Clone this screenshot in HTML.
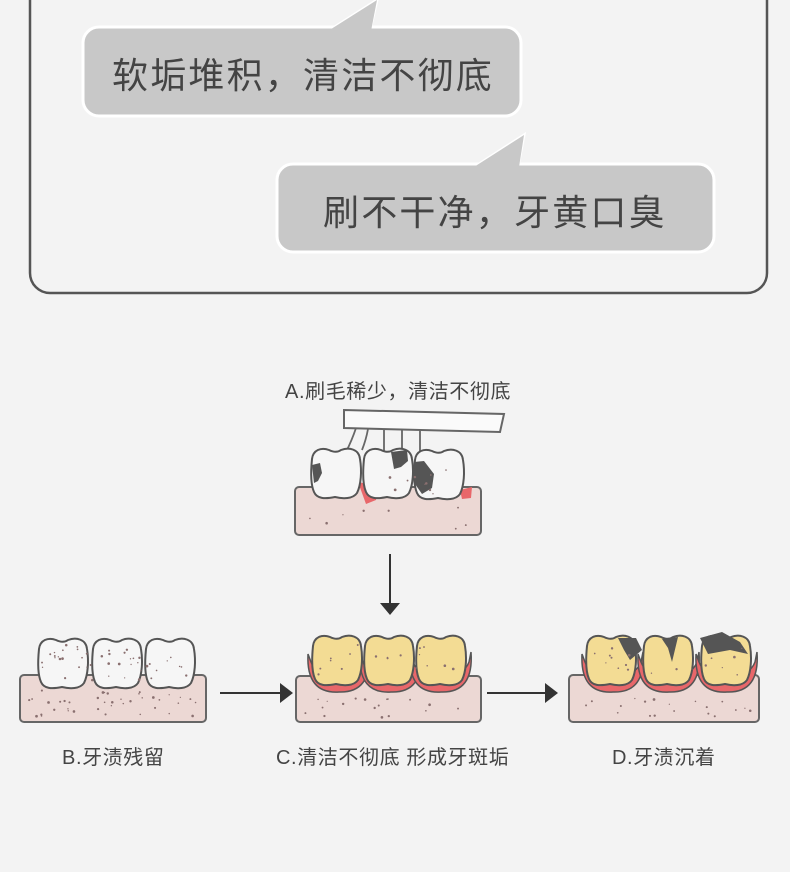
<!DOCTYPE html>
<html><head><meta charset="utf-8"><style>
html,body{margin:0;padding:0;background:#f3f3f3;}
body{width:790px;height:872px;position:relative;overflow:hidden;font-family:"Liberation Sans","Noto Sans CJK SC",sans-serif;}
.t{position:absolute;color:#444;white-space:nowrap;}
.big{font-size:36px;letter-spacing:2.2px;}
.sm{font-size:20px;letter-spacing:0.6px;}
</style></head><body>
<svg width="790" height="872" style="position:absolute;left:0;top:0">
<defs>
<path id="tooth" d="M3,12 C4,3 12,0 20,3 C24,5 28,6 32,3 C40,0 50,2 51,12 C53,24 52,38 48,46 C44,52 34,52 26,50 C16,52 8,52 5,45 C1,36 2,22 3,12 Z"/>
<path id="collar" d="M-4,22 Q-6,62 27,60 Q60,61 57,20 L55,30 Q50,44 27,44 Q4,44 -1,30 Z"/>
</defs>
<rect x="30" y="-30" width="737" height="323" rx="20" fill="#f3f3f3" stroke="#555" stroke-width="2.5"/>
<path d="M330,30 L377,0 L370,30 Z" fill="#c8c8c8" stroke="#fff" stroke-width="3"/>
<rect x="83" y="27" width="438" height="89" rx="16" fill="#c8c8c8" stroke="#fff" stroke-width="3"/>
<path d="M328,31 L377,0 L371,31 Z" fill="#c8c8c8"/>
<path d="M476,166 L524,135 L518,166 Z" fill="#c8c8c8" stroke="#fff" stroke-width="3"/>
<rect x="277" y="164" width="437" height="88" rx="16" fill="#c8c8c8" stroke="#fff" stroke-width="3"/>
<path d="M474,167 L524,135 L519,167 Z" fill="#c8c8c8"/>

<path d="M344,410 L504,414 L500,432 L344,428 Z" fill="#fafafa" stroke="#666" stroke-width="2"/>
<g stroke="#666" stroke-width="1.8" fill="none">
<path d="M356,428 Q352,440 346,452"/><path d="M368,429 Q366,440 362,450"/><path d="M384,429 L384,452"/><path d="M402,429 L402,452"/><path d="M420,430 L420,452"/>
</g>
<rect x="295" y="487" width="186" height="48" rx="4" fill="#ecd8d4" stroke="#666" stroke-width="2"/>
<path d="M358,482 L378,486 L376,500 L366,504 Z" fill="#e8676a"/>
<path d="M460,490 L472,487 L471,498 L462,499 Z" fill="#e8676a"/>
<g transform="translate(309,447)"><use href="#tooth" fill="#f6f6f6" stroke="#555" stroke-width="2"/><path d="M3,18 L11,16 L13,26 L9,34 L5,36 Z" fill="#555"/></g>
<g transform="translate(361,447)"><use href="#tooth" fill="#f6f6f6" stroke="#555" stroke-width="2"/><path d="M30,5 L46,3 L47,14 L40,20 L33,22 Z" fill="#555"/></g>
<g transform="translate(412,448)"><use href="#tooth" fill="#f6f6f6" stroke="#555" stroke-width="2"/><path d="M2,14 L12,13 L22,26 L20,40 L10,46 L3,36 Z" fill="#555"/></g>

<line x1="390" y1="554" x2="390" y2="604" stroke="#333" stroke-width="2"/>
<path d="M380,603 L400,603 L390,615 Z" fill="#333"/>
<line x1="220" y1="693" x2="282" y2="693" stroke="#333" stroke-width="2"/>
<path d="M280,683 L293,693 L280,703 Z" fill="#333"/>
<line x1="487" y1="693" x2="547" y2="693" stroke="#333" stroke-width="2"/>
<path d="M545,683 L558,693 L545,703 Z" fill="#333"/>

<rect x="20" y="675" width="186" height="47" rx="4" fill="#ecd8d4" stroke="#666" stroke-width="2"/>
<g fill="#f6f6f6" stroke="#555" stroke-width="2">
<use href="#tooth" x="36" y="637"/><use href="#tooth" x="90" y="637"/><use href="#tooth" x="143" y="637"/>
</g>
<rect x="296" y="676" width="185" height="46" rx="4" fill="#ecd8d4" stroke="#666" stroke-width="2"/>
<g fill="#e8676a" stroke="#555" stroke-width="1.5">
<use href="#collar" x="312" y="632"/><use href="#collar" x="364" y="632"/><use href="#collar" x="414" y="632"/>
</g>
<g fill="#f3dc94" stroke="#555" stroke-width="2">
<use href="#tooth" x="310" y="634"/><use href="#tooth" x="362" y="634"/><use href="#tooth" x="414" y="634"/>
</g>
<rect x="569" y="675" width="190" height="47" rx="4" fill="#ecd8d4" stroke="#666" stroke-width="2"/>
<g fill="#e8676a" stroke="#555" stroke-width="1.5">
<use href="#collar" x="586" y="632"/><use href="#collar" x="642" y="632"/><use href="#collar" x="700" y="632"/>
</g>
<g fill="#f3dc94" stroke="#555" stroke-width="2">
<use href="#tooth" x="584" y="634"/><use href="#tooth" x="641" y="634"/><use href="#tooth" x="699" y="634"/>
</g>
<g fill="#555">
<path d="M618,638 L636,638 L642,650 L630,660 L624,650 Z"/>
<path d="M662,639 L678,637 L672,662 L668,648 Z"/>
<path d="M700,638 L722,632 L740,642 L748,654 L730,650 L708,654 Z"/>
</g>
<g id="dots" fill="#8a7070"></g>
</svg>
<div class="t big" style="left:112px;top:47px;">软垢堆积，清洁不彻底</div>
<div class="t big" style="left:323px;top:184px;">刷不干净，牙黄口臭</div>
<div class="t sm" style="left:285px;top:375px;">A.刷毛稀少，清洁不彻底</div>
<div class="t sm" style="left:62px;top:741px;">B.牙渍残留</div>
<div class="t sm" style="left:276px;top:741px;">C.清洁不彻底 形成牙斑垢</div>
<div class="t sm" style="left:612px;top:741px;">D.牙渍沉着</div>
<script>
var g=document.getElementById('dots'),s=7;
function r(){s=(s*9301+49297)%233280;return s/233280;}
function add(x,y,w,h,n){for(var i=0;i<n;i++){var c=document.createElementNS('http://www.w3.org/2000/svg','circle');c.setAttribute('cx',x+r()*w);c.setAttribute('cy',y+r()*h);c.setAttribute('r',0.6+r()*0.8);g.appendChild(c);}}
add(28,690,170,28,40);add(304,698,170,20,18);add(577,698,175,20,20);add(305,505,170,25,8);
add(42,645,145,36,45);add(318,645,140,30,18);add(592,648,150,30,18);add(370,470,80,24,10);
</script>
</body></html>
